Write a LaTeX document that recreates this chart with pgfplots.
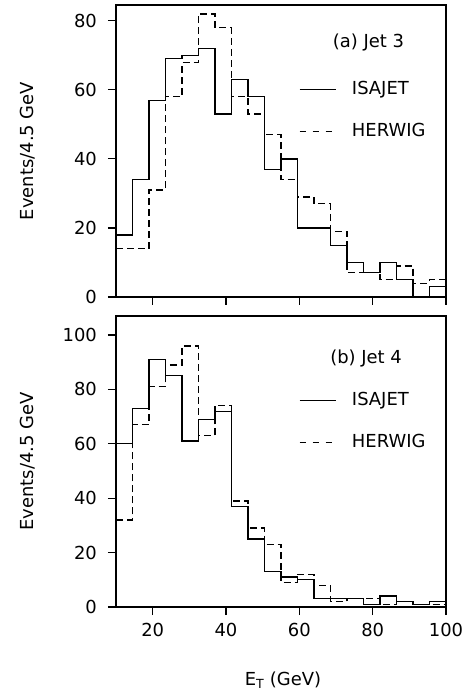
\documentclass[border=0pt]{standalone}
\usepackage{fontspec}
\setmainfont{DejaVu Sans}
\usepackage{pgfplots}
\pgfplotsset{compat=1.18}
\usepackage{pgfplotstable}

\newcommand{\figfont}{\fontsize{18}{21.6}\selectfont}

% Jet E_T spectra, 4.5 GeV bins starting at 10 GeV (left bin edges);
% the last row repeats the final bin so the step closes at 100 GeV.
\pgfplotstableread{
et    isajet herwig
10    18  14
14.5  34  14
19    57  31
23.5  69  58
28    70  68
32.5  72  82
37    53  78
41.5  63  58
46    58  53
50.5  37  47
55    40  34
59.5  20  29
64    20  27
68.5  15  19
73    10  7
77.5  7   7
82    10  5
86.5  5   9
91    0   4
95.5  3   5
100   3   5
}\jetthree

\pgfplotstableread{
et    isajet herwig
10    60  32
14.5  73  67
19    91  81
23.5  85  89
28    61  96
32.5  69  63
37    72  74
41.5  37  39
46    25  29
50.5  13  23
55    11  9
59.5  10  12
64    3   8
68.5  3   2
73    3   3
77.5  1   3
82    4   1
86.5  2   2
91    1   1
95.5  2   1
100   2   1
}\jetfour

\pgfplotsset{
  panel/.style={
    scale only axis, width=330bp, anchor=south west,
    xmin=10, xmax=100, ymin=0,
    axis line style={line width=1.3bp},
    tick style={line width=1.1bp, black},
    major tick length=8bp, tick align=outside,
    xtick pos=bottom, ytick pos=left,
    xtick={20,40,60,80,100},
    /pgf/number format/assume math mode=true,
    tick label style={font=\figfont},
    yticklabel style={xshift=-5bp},
    xticklabel style={yshift=-2bp},
    label style={font=\figfont},
    ylabel={Events/4.5 GeV},
    ylabel style={at={(axis description cs:-0.268,0.5)}, anchor=center},
    legend cell align=left,
    legend style={draw=none, fill=none, font=\figfont,
      at={(rel axis cs:0.5545,0.745)},
      anchor=north west, inner sep=0pt, row sep=22bp, column sep=14bp},
    legend image code/.code={\draw[#1] (0bp,0bp) -- (36bp,0bp);},
  },
  hist/.style={const plot, line width=1.3bp, black},
  histdash/.style={const plot, line width=1.3bp, black, dash pattern=on 7bp off 4bp},
}

\begin{document}
\figfont
\begin{tikzpicture}[every node/.style={font=\figfont}]
\path[use as bounding box] (0bp,0bp) rectangle (469bp,694bp);

% (a) third jet
\begin{axis}[panel, at={(116bp,397bp)}, height=292bp, ymax=84.6,
  ytick={0,20,40,60,80}, xticklabels={}]
  \addplot[hist, forget plot] table[x=et, y=isajet] {\jetthree};
  \addplot[histdash, forget plot] table[x=et, y=herwig] {\jetthree};
  \addlegendimage{line width=0.8bp, black}
  \addlegendentry{ISAJET}
  \addlegendimage{line width=0.8bp, black, dash pattern=on 6bp off 7bp}
  \addlegendentry{HERWIG}
  \node at (rel axis cs:0.765,0.870) {(a) Jet 3};
\end{axis}

% (b) fourth jet
\begin{axis}[panel, at={(116bp,87bp)}, height=291bp, ymax=107,
  ytick={0,20,40,60,80,100},
  xlabel={E\textsubscript{T} (GeV)},
  xlabel style={at={(axis description cs:0.506,-0.251)}, anchor=center}]
  \addplot[hist, forget plot] table[x=et, y=isajet] {\jetfour};
  \addplot[histdash, forget plot] table[x=et, y=herwig] {\jetfour};
  \addlegendimage{line width=0.8bp, black}
  \addlegendentry{ISAJET}
  \addlegendimage{line width=0.8bp, black, dash pattern=on 6bp off 7bp}
  \addlegendentry{HERWIG}
  \node at (rel axis cs:0.758,0.855) {(b) Jet 4};
\end{axis}
\end{tikzpicture}
\end{document}
